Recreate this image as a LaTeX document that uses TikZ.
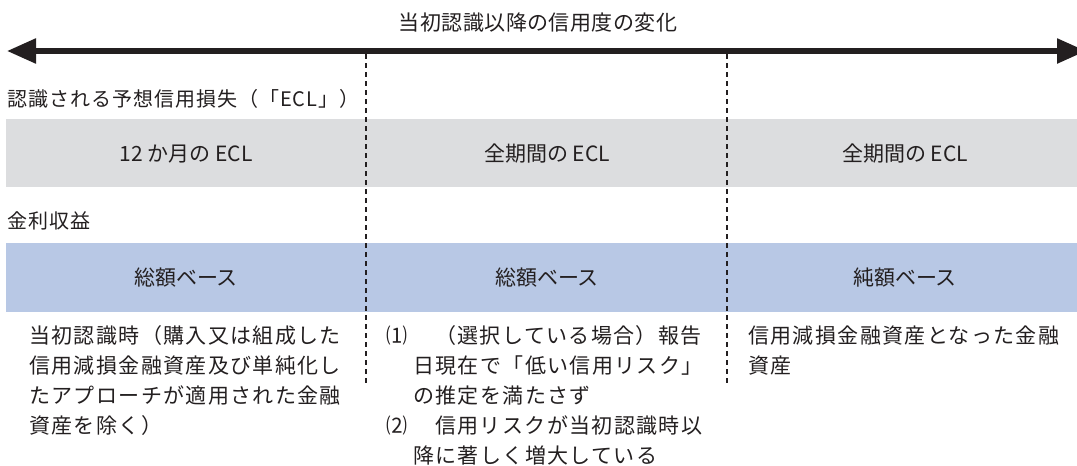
\documentclass[tikz,border=0pt]{standalone}
\usepackage{fontspec}
\setmainfont{Noto Sans CJK JP}
\newfontfamily\jpbody[LetterSpace=6.5]{Noto Sans CJK JP}
\newfontfamily\jphead[LetterSpace=5]{Noto Sans CJK JP}
\newfontfamily\jptitle[LetterSpace=2]{Noto Sans CJK JP}
\usetikzlibrary{arrows.meta}
\definecolor{bandgray}{HTML}{DCDDDF}
\definecolor{bandblue}{HTML}{B8C8E5}
\definecolor{ink}{HTML}{231F20}
\tikzset{
  bodytxt/.style={anchor=base west, inner sep=0pt, text=ink, font=\jpbody\fontsize{21}{30}\selectfont},
  headtxt/.style={anchor=base west, inner sep=0pt, text=ink, font=\jphead\fontsize{20}{24}\selectfont},
  bandtxt/.style={anchor=base, inner sep=0pt, text=ink, font=\fontsize{21}{24}\selectfont},
  divider/.style={draw=ink, line width=1.2pt, dash pattern=on 5pt off 4pt},
  timeline/.style={draw=ink, line width=5.5pt, {Triangle[length=29pt,width=24pt]}-{Triangle[length=29pt,width=24pt]}}
}
\begin{document}
\begin{tikzpicture}[x=1pt,y=-1pt]
\useasboundingbox (0,0) rectangle (1077,466);
% bands
\fill[bandgray] (6,119) rectangle (1077,187);
\fill[bandblue] (6,243) rectangle (1077,312);
% title and timeline
\node[anchor=base, inner sep=0pt, text=ink, font=\jptitle\fontsize{21}{24}\selectfont] (title) at (538,30) {当初認識以降の信用度の変化};
\coordinate (aL) at (7,51);
\coordinate (aR) at (1086,51);
\draw[timeline] (aL) -- (aR);
% dividers
\coordinate (d1t) at (366,54);
\coordinate (d1b) at (366,383);
\coordinate (d2t) at (727,54);
\coordinate (d2b) at (727,383);
\draw[divider] (d1t) -- (d1b);
\draw[divider] (d2t) -- (d2b);
% row headings
\node[headtxt] (h1) at (7,106) {認識される予想信用損失（「ECL」）};
\node[headtxt] (h2) at (7,228) {金利収益};
% band labels
\node[bandtxt] (g1) at (186,161) {12 か月の ECL};
\node[bandtxt] (g2) at (547,161) {全期間の ECL};
\node[bandtxt] (g3) at (905,161) {全期間の ECL};
\node[bandtxt] (b1) at (186,285) {総額ベース};
\node[bandtxt] (b2) at (547,285) {総額ベース};
\node[bandtxt] (b3) at (905,285) {純額ベース};
% left column
\node[bodytxt] (l1) at (29,343) {当初認識時（購入又は組成した};
\node[bodytxt] (l2) at (29,373) {信用減損金融資産及び単純化し};
\node[bodytxt] (l3) at (29,403) {たアプローチが適用された金融};
\node[bodytxt] (l4) at (29,433) {資産を除く）};
% middle column
\node[bodytxt] (n1) at (386,343) {⑴};
\node[bodytxt] (m1) at (435,343) {（選択している場合）報告};
\node[bodytxt] (m2) at (413,373) {日現在で「低い信用リスク」};
\node[bodytxt] (m3) at (413,403) {の推定を満たさず};
\node[bodytxt] (n2) at (386,433) {⑵};
\node[bodytxt] (m4) at (435,433) {信用リスクが当初認識時以};
\node[bodytxt] (m5) at (413,463) {降に著しく増大している};
% right column
\node[bodytxt] (r1) at (748,343) {信用減損金融資産となった金融};
\node[bodytxt] (r2) at (748,373) {資産};
\end{tikzpicture}
\end{document}
